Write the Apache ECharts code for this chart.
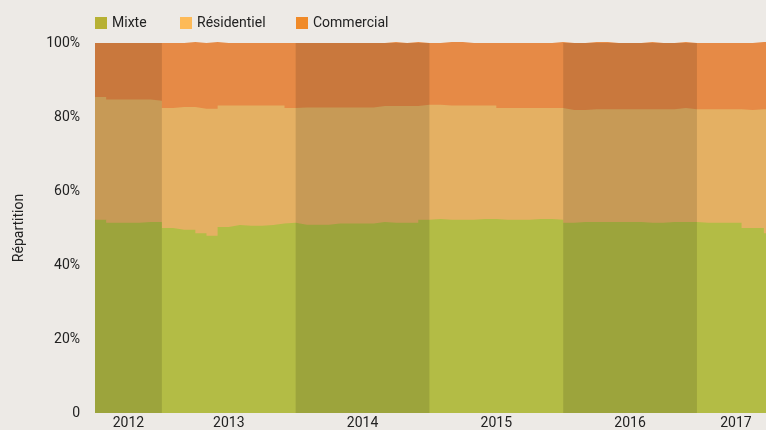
<!DOCTYPE html>
<html>
<head>
<meta charset="utf-8">
<script src="https://cdn.jsdelivr.net/npm/echarts@6/dist/echarts.min.js"></script>
<style>
html,body{margin:0;padding:0;background:#EDEAE6;}
#c{width:766px;height:430px;}
</style>
</head>
<body>
<div id="c"></div>
<script>
// Monthly data, July 2012 – July 2017 (shares in %)
const years = ['2012', '2013', '2014', '2015', '2016', '2017'];
const monthsPerYear = [6, 12, 12, 12, 12, 7];

const mixte = [
  52.2, 51.4, 51.4, 51.4, 51.6, 51.6,
  50.0, 49.5, 49.5, 48.6, 47.9, 50.3, 50.8, 50.6, 50.6, 50.8, 51.2, 51.4,
  50.9, 50.9, 50.9, 51.2, 51.2, 51.2, 51.2, 51.6, 51.4, 51.4, 51.4, 52.2,
  52.4, 52.2, 52.2, 52.2, 52.4, 52.4, 52.2, 52.2, 52.2, 52.4, 52.4, 52.2,
  51.4, 51.6, 51.6, 51.6, 51.6, 51.6, 51.6, 51.4, 51.4, 51.6, 51.6, 51.6,
  51.4, 51.4, 51.4, 51.4, 50.0, 50.0, 48.6
];
const residentiel = [
  33.2, 33.3, 33.3, 33.3, 33.1, 32.8,
  32.4, 33.2, 33.2, 33.6, 34.3, 32.8, 32.3, 32.5, 32.5, 32.3, 31.9, 31.0,
  31.7, 31.7, 31.7, 31.4, 31.4, 31.4, 31.4, 31.4, 31.6, 31.6, 31.6, 31.1,
  30.9, 30.9, 30.9, 30.9, 30.7, 30.7, 30.2, 30.2, 30.2, 30.0, 30.0, 30.2,
  30.5, 30.3, 30.5, 30.5, 30.5, 30.5, 30.5, 30.7, 30.7, 30.5, 30.8, 30.5,
  30.7, 30.7, 30.7, 30.7, 31.9, 32.1, 33.5
];
const commercial = [
  14.6, 15.3, 15.3, 15.3, 15.3, 15.6,
  17.6, 17.3, 17.6, 17.8, 18.1, 16.9, 16.9, 16.9, 16.9, 16.9, 16.9, 17.6,
  17.4, 17.4, 17.4, 17.4, 17.4, 17.4, 17.4, 17.0, 17.3, 17.0, 17.3, 16.7,
  16.7, 17.2, 17.2, 16.9, 16.9, 16.9, 17.6, 17.6, 17.6, 17.6, 17.6, 17.9,
  18.1, 18.1, 18.2, 18.2, 17.9, 17.9, 17.9, 18.2, 17.9, 17.9, 17.9, 17.9,
  17.9, 17.9, 17.9, 17.9, 18.1, 18.2, 17.9
];
const yTicks = [0, 20, 40, 60, 80, 100];

const names = ['Mixte', 'Résidentiel', 'Commercial'];
const legendColors = ['#B7B134', '#FDBA58', '#F08A28'];
const areaColors = ['#B3BC45', '#E4B063', '#E68A46'];

const FONT = "Roboto, sans-serif";

// year band boundaries (in month index units)
const bounds = [0];
monthsPerYear.forEach(m => bounds.push(bounds[bounds.length - 1] + m));
const totalMonths = bounds[bounds.length - 1];
const labelMap = {};
years.forEach((y, i) => { labelMap[(bounds[i] + bounds[i + 1]) / 2] = y; });

// category axis: one slot per month boundary (N months -> N+1 points)
const monthSlots = [];
for (let i = 0; i <= totalMonths; i++) monthSlots.push(String(i));
function withEnd(arr) { return arr.concat([arr[arr.length - 1]]); }

// cumulative tops (drawn as overlapping areas from 0, avoids seams)
const seriesData = [mixte, residentiel, commercial];
const cumul = seriesData.map((arr, s) =>
  arr.map((v, k) => {
    let t = 0;
    for (let j = 0; j <= s; j++) t += seriesData[j][k];
    return +t.toFixed(2);
  })
);

const darkBands = [];
years.forEach((y, i) => {
  if (i % 2 === 0) {
    darkBands.push([{ xAxis: bounds[i], yAxis: 0 }, { xAxis: bounds[i + 1], yAxis: 100 }]);
  }
});

const series = names.map((n, i) => {
  const s = {
    name: n,
    type: 'line',
    step: 'end',
    symbol: 'none',
    clip: false,
    z: 5 - i,
    data: withEnd(cumul[i]),
    itemStyle: { color: legendColors[i] },
    lineStyle: { width: 0, opacity: 0 },
    areaStyle: { color: areaColors[i], opacity: 1, origin: 'start' },
    emphasis: { disabled: true },
    animation: false
  };
  if (i === 0) {
    s.markArea = {
      silent: true,
      z: 10,
      itemStyle: { color: 'rgba(0,0,0,0.125)' },
      label: { show: false },
      data: darkBands
    };
  }
  return s;
});

const legendLefts = [95, 180, 296];
const chart = echarts.init(document.getElementById('c'), null, { renderer: 'canvas' });
chart.setOption({
  backgroundColor: '#EDEAE6',
  animation: false,
  legend: names.map((n, i) => ({
    data: [n],
    left: legendLefts[i],
    top: 16,
    padding: 0,
    icon: 'rect',
    itemWidth: 12,
    itemHeight: 12,
    selectedMode: false,
    textStyle: { fontFamily: FONT, fontSize: 14, color: '#222' }
  })),
  grid: { left: 95, right: -9, top: 43, bottom: 17, containLabel: false, outerBoundsMode: 'none' },
  xAxis: [{
    type: 'category',
    data: monthSlots,
    boundaryGap: false,
    axisLine: { show: false },
    axisTick: { show: false },
    splitLine: { show: false },
    axisLabel: { show: false }
  }, {
    type: 'value',
    position: 'bottom',
    min: 0,
    max: totalMonths,
    interval: 0.5,
    axisLine: { show: false },
    axisTick: { show: false },
    splitLine: { show: false },
    axisLabel: {
      margin: 3,
      fontFamily: FONT,
      fontSize: 14,
      color: '#222',
      formatter: v => labelMap[v] || ''
    }
  }],
  yAxis: {
    type: 'value',
    min: yTicks[0],
    max: yTicks[yTicks.length - 1],
    interval: yTicks[1] - yTicks[0],
    name: 'Répartition',
    nameLocation: 'middle',
    nameGap: 69,
    nameTextStyle: { fontFamily: FONT, fontSize: 14, color: '#222' },
    axisLine: { show: false },
    axisTick: { show: false },
    splitLine: { show: false },
    axisLabel: {
      margin: 15,
      fontFamily: FONT,
      fontSize: 14,
      color: '#222',
      formatter: v => v === 0 ? '0' : v + '%'
    }
  },
  series: series
});
</script>
</body>
</html>
